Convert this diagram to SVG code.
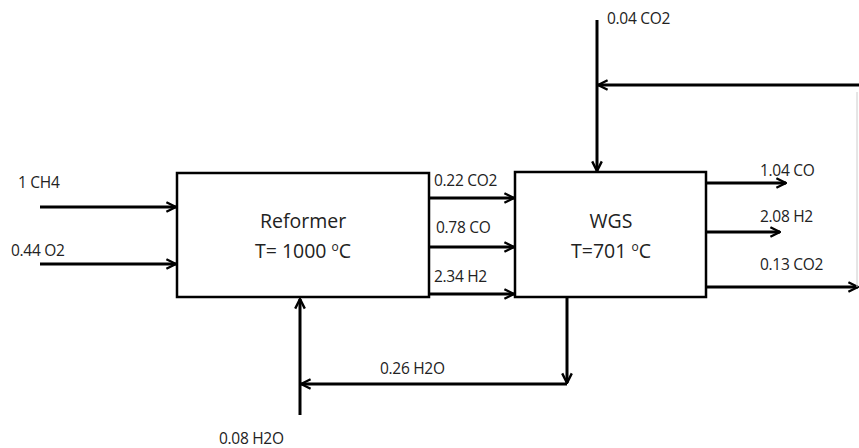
<svg xmlns="http://www.w3.org/2000/svg" width="859" height="448" viewBox="0 0 859 448">
<style>
.box{fill:#fff;stroke:#000;stroke-width:2.5}
.ln{fill:none;stroke:#000;stroke-width:3}
.lbl{font-family:"Open Sans","Liberation Sans",sans-serif;font-size:15.5px;fill:#222;letter-spacing:-0.3px}
.big{font-family:"Open Sans","Liberation Sans",sans-serif;font-size:19.5px;fill:#222;text-anchor:middle}
.sup{font-size:12px}
</style>
<defs>
<marker id="ah" viewBox="0 0 10 10" refX="9" refY="5" markerWidth="4" markerHeight="4" orient="auto" markerUnits="strokeWidth">
<path d="M1,1 L9,5 L1,9" fill="none" stroke="#000" stroke-width="2"/>
</marker>
</defs>
<g id="connectors">
<line class="ln" x1="40" y1="207" x2="176" y2="207" marker-end="url(#ah)"/>
<line class="ln" x1="40" y1="264" x2="176" y2="264" marker-end="url(#ah)"/>
<line class="ln" x1="429" y1="198" x2="514" y2="198" marker-end="url(#ah)"/>
<line class="ln" x1="429" y1="247" x2="514" y2="247" marker-end="url(#ah)"/>
<line class="ln" x1="429" y1="294" x2="514" y2="294" marker-end="url(#ah)"/>
<line class="ln" x1="706" y1="183" x2="786" y2="183" marker-end="url(#ah)"/>
<line class="ln" x1="706" y1="232" x2="780" y2="232" marker-end="url(#ah)"/>
<line class="ln" x1="706" y1="287" x2="858" y2="287" marker-end="url(#ah)"/>
<line class="ln" x1="597" y1="20" x2="597" y2="171" marker-end="url(#ah)"/>
<line class="ln" x1="859" y1="85" x2="598" y2="85" marker-end="url(#ah)"/>
<line x1="857" y1="92" x2="857" y2="287" stroke="#ccc" stroke-width="1"/>
<line class="ln" x1="300" y1="415" x2="300" y2="299" marker-end="url(#ah)"/>
<line class="ln" x1="567" y1="298" x2="567" y2="383" marker-end="url(#ah)"/>
<line class="ln" x1="567" y1="384" x2="301" y2="384" marker-end="url(#ah)"/>
</g>
<g id="reformer">
<rect class="box" x="177" y="173" width="252" height="124"/>
<text class="big" x="303" y="228">Reformer</text>
<text class="big" x="303" y="258">T= 1000 <tspan class="sup" dy="-7">o</tspan><tspan dy="7">C</tspan></text>
</g>
<g id="wgs">
<rect class="box" x="515" y="172" width="191" height="125"/>
<text class="big" x="611" y="228">WGS</text>
<text class="big" x="611" y="258">T=701 <tspan class="sup" dy="-7">o</tspan><tspan dy="7">C</tspan></text>
</g>
<g id="labels">
<text class="lbl" x="18" y="188">1 CH4</text>
<text class="lbl" x="11" y="256">0.44 O2</text>
<text class="lbl" x="434" y="186">0.22 CO2</text>
<text class="lbl" x="436" y="233">0.78 CO</text>
<text class="lbl" x="434" y="282">2.34 H2</text>
<text class="lbl" x="760" y="176">1.04 CO</text>
<text class="lbl" x="760" y="222">2.08 H2</text>
<text class="lbl" x="760" y="270">0.13 CO2</text>
<text class="lbl" x="607" y="24">0.04 CO2</text>
<text class="lbl" x="380" y="374">0.26 H2O</text>
<text class="lbl" x="219" y="444">0.08 H2O</text>
</g>
</svg>
